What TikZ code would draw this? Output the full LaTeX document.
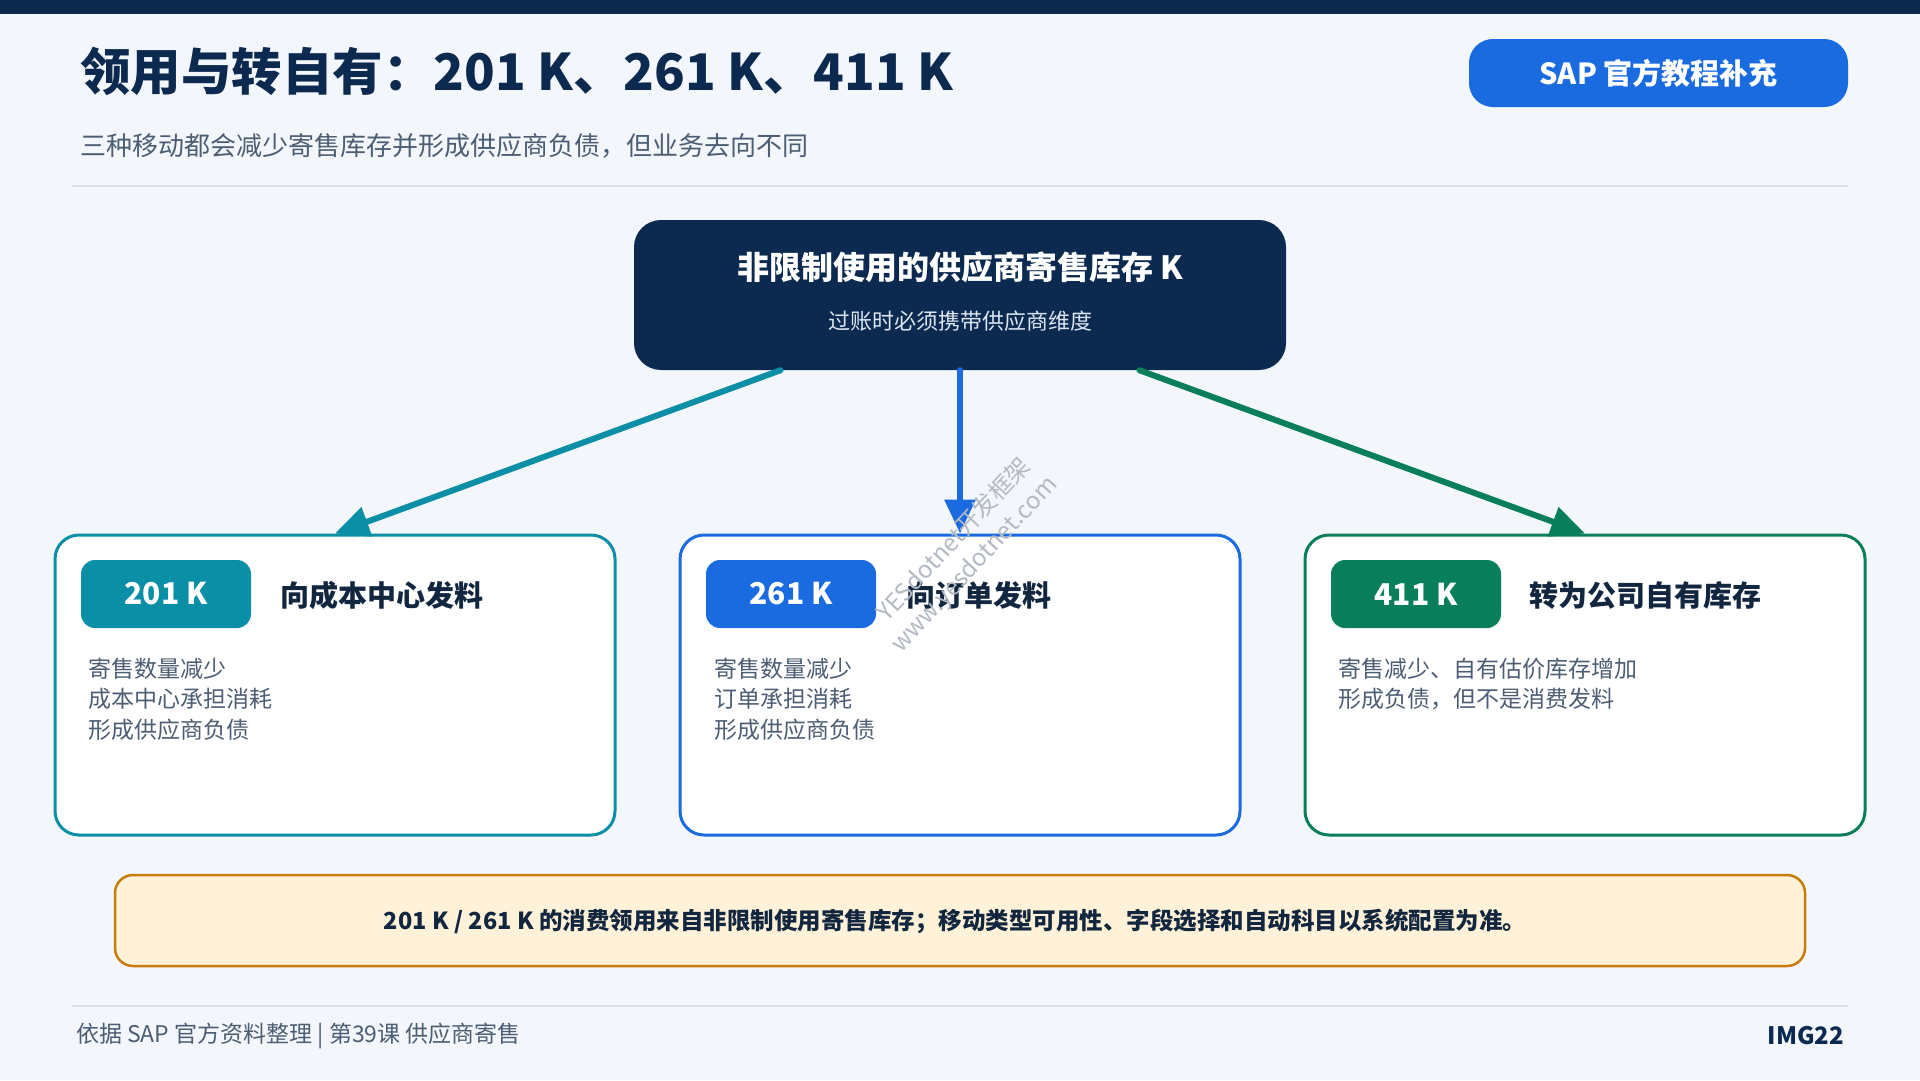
\documentclass[tikz,border=0pt]{standalone}
\usepackage{fontspec}
\setmainfont{Noto Sans CJK SC}
\usetikzlibrary{arrows.meta,calc}
\definecolor{navy}{HTML}{0C2A50}
\definecolor{ink}{HTML}{13263F}
\definecolor{bg}{HTML}{F3F6FB}
\definecolor{slate}{HTML}{4C5D74}
\definecolor{rule}{HTML}{D6DFEA}
\definecolor{cteal}{HTML}{0A8FA7}
\definecolor{cblue}{HTML}{1A6BE0}
\definecolor{cgreen}{HTML}{087F5A}
\definecolor{notefill}{HTML}{FFF2D9}
\definecolor{notedraw}{HTML}{C97B0C}
\definecolor{subw}{HTML}{DDE6F2}
\definecolor{wm}{HTML}{B4BAC3}
\newcommand{\setfs}[1]{\fontsize{#1pt}{#1pt}\selectfont}
\tikzset{
  txt/.style={inner sep=0pt, outer sep=0pt},
  card/.style={draw, line width=3pt, fill=white, rounded corners=24pt,
    minimum width=560pt, minimum height=300pt, inner sep=0pt},
  badge/.style={rounded corners=14pt, minimum width=170pt, minimum height=68pt,
    inner sep=0pt, text=white, font=\setfs{30}\bfseries},
  ctitle/.style={txt, anchor=west, text=ink, font=\setfs{29}\bfseries},
  body/.style={txt, anchor=west, text=slate, font=\setfs{23}},
  link/.style={line width=6pt, line cap=round, -{Triangle[length=34pt,width=30pt]}},
  wmark/.style={txt, text=wm, font=\setfs{24}, rotate=47}
}
\begin{document}
\begin{tikzpicture}[x=1pt,y=-1pt]
\useasboundingbox (0,0) rectangle (1920,1080);
\fill[bg] (0,0) rectangle (1920,1080);
\fill[navy] (0,0) rectangle (1920,14);

% header
\node[txt, anchor=west, text=navy, font=\setfs{50.5}\bfseries] (title) at (80,71) {领用与转自有：201 K、261 K、411 K};
\node[txt, anchor=west, text=slate, font=\setfs{26}] (sub) at (80,146) {三种移动都会减少寄售库存并形成供应商负债，但业务去向不同};
\draw[rule, line width=2.5pt] (72,186) -- (1848,186);
\node[fill=cblue, rounded corners=24pt, minimum width=379pt, minimum height=68pt, inner sep=0pt,
  text=white, font=\setfs{29}\bfseries] (sap) at (1658.5,73) {SAP 官方教程补充};

% source box
\node[fill=navy, rounded corners=27pt, minimum width=652pt, minimum height=150pt, inner sep=0pt] (src) at (960,295) {};
\node[txt, text=white, font=\setfs{32}\bfseries] (srct) at (960,267) {非限制使用的供应商寄售库存 K};
\node[txt, text=subw, font=\setfs{22}] (srcs) at (960,321) {过账时必须携带供应商维度};

% cards
\node[card, draw=cteal] (c1) at (335,685) {};
\node[card, draw=cblue] (c2) at (960,685) {};
\node[card, draw=cgreen] (c3) at (1585,685) {};

\node[badge, fill=cteal] (b1) at (166,594) {201 K};
\node[badge, fill=cblue] (b2) at (791,594) {261 K};
\node[badge, fill=cgreen] (b3) at (1416,594) {411 K};

\node[ctitle] (t1) at (280,595) {向成本中心发料};
\node[ctitle] (t2) at (906,595) {向订单发料};
\node[ctitle] (t3) at (1529,595) {转为公司自有库存};

\node[body] (l11) at (88,669) {寄售数量减少};
\node[body] (l12) at (88,699) {成本中心承担消耗};
\node[body] (l13) at (88,730) {形成供应商负债};
\node[body] (l21) at (714,669) {寄售数量减少};
\node[body] (l22) at (714,699) {订单承担消耗};
\node[body] (l23) at (714,730) {形成供应商负债};
\node[body] (l31) at (1338,669) {寄售减少、自有估价库存增加};
\node[body] (l32) at (1338,699) {形成负债，但不是消费发料};

% connectors
\draw[link, cteal] ($(src.south west)!0.225!(src.south east)$) -- (c1.north);
\draw[link, cblue] (src.south) -- (c2.north);
\draw[link, cgreen] ($(src.south west)!0.775!(src.south east)$) -- (c3.north);

% note
\node[fill=notefill, draw=notedraw, line width=2.5pt, rounded corners=18pt,
  minimum width=1690pt, minimum height=91pt, inner sep=0pt] (note) at (960,920.5) {};
\node[txt, text=ink, font=\setfs{23.5}\bfseries] (notet) at (955,921) {201 K / 261 K 的消费领用来自非限制使用寄售库存；移动类型可用性、字段选择和自动科目以系统配置为准。};

% footer
\draw[rule, line width=2.5pt] (72,1006) -- (1848,1006);
\node[txt, anchor=west, text=slate, font=\setfs{23}] (foot) at (76,1036) {依据 SAP 官方资料整理 | 第39课 供应商寄售};
\node[txt, anchor=east, text=navy, font=\setfs{24}\bfseries] (img) at (1844,1036) {IMG22};

% watermark
\node[wmark] (wm1) at (953,539) {YESdotnet开发框架};
\node[wmark] (wm2) at (975,565) {www.yesdotnet.com};
\end{tikzpicture}
\end{document}
